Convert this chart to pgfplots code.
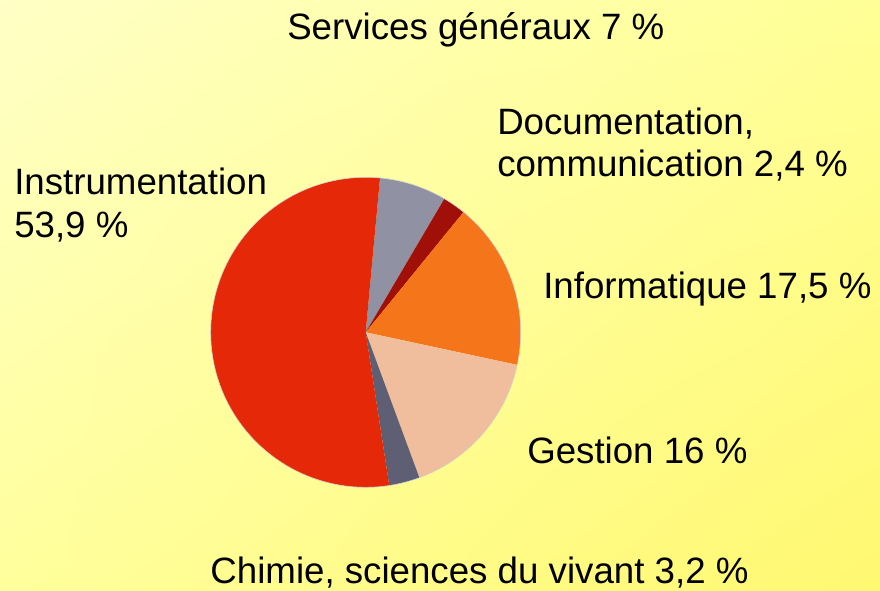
\documentclass[border=0pt]{standalone}
\usepackage{pgfplots}
\pgfplotsset{compat=1.18}
\usetikzlibrary{shadings}
\usepackage{fontspec}
\setmainfont{Liberation Sans}
\definecolor{cInstr}{HTML}{E52908}
\definecolor{cServ}{HTML}{9091A3}
\definecolor{cDoc}{HTML}{A00F08}
\definecolor{cInfo}{HTML}{F5761A}
\definecolor{cGest}{HTML}{F0BE9C}
\definecolor{cChim}{HTML}{5E5F75}
\definecolor{bgTL}{HTML}{FFFFC6}
\definecolor{bgTR}{HTML}{FFFF96}
\definecolor{bgBL}{HTML}{FFFF9C}
\definecolor{bgBR}{HTML}{FFF870}
\tikzset{lbl/.style={inner sep=0pt, font=\fontsize{27.5}{32}\selectfont}}
% start angle (degrees) and geometry of the pie, in pixel units of the reference
\newcommand{\sa}{84.7}
\newcommand{\cx}{365.7}
\newcommand{\cy}{257.7}
\newcommand{\rr}{155}
% #1 cumulative percentage before the slice, #2 cumulative after, #3 colour
\newcommand{\slice}[3]{%
  \addplot[fill=#3, draw=none, domain={\sa-3.6*(#2)}:{\sa-3.6*(#1)}, samples=90]
    ({\cx+\rr*cos(x)},{\cy+\rr*sin(x)}) -- (axis cs:\cx,\cy) -- cycle;
}
\begin{document}
\begin{tikzpicture}
\begin{axis}[
  width=660pt, height=442.5pt, scale only axis,
  xmin=0, xmax=880, ymin=0, ymax=590,
  hide axis, clip=false,
]
\path[shade, upper left=bgTL, upper right=bgTR, lower left=bgBL, lower right=bgBR]
  (axis cs:0,0) rectangle (axis cs:880,590);
% shares (%): Services 7, Documentation 2.4, Informatique 17.5,
% Gestion 16, Chimie 3.2, Instrumentation 53.9
\slice{0}{7}{cServ}
\slice{7}{7+2.4}{cDoc}
\slice{9.4}{9.4+17.5}{cInfo}
\slice{26.9}{26.9+16}{cGest}
\slice{42.9}{42.9+3.2}{cChim}
\slice{46.1}{46.1+53.9}{cInstr}
\addplot[draw=gray!35, line width=0.4pt, domain=0:360, samples=181]
  ({\cx+\rr*cos(x)},{\cy+\rr*sin(x)});
\node[lbl, anchor=base] at (axis cs:475.8,550) {Services généraux 7 \%};
\node[lbl, anchor=base west] at (axis cs:497,455) {Documentation,};
\node[lbl, anchor=base west] at (axis cs:497,413.5) {communication 2,4 \%};
\node[lbl, anchor=base west] at (axis cs:543,292) {Informatique 17,5 \%};
\node[lbl, anchor=base west] at (axis cs:14,395.5) {Instrumentation};
\node[lbl, anchor=base west] at (axis cs:14,352.5) {53,9 \%};
\node[lbl, anchor=base west] at (axis cs:527,126.5) {Gestion 16 \%};
\node[lbl, anchor=base] at (axis cs:479.5,7) {Chimie, sciences du vivant 3,2 \%};
\end{axis}
\end{tikzpicture}
\end{document}
